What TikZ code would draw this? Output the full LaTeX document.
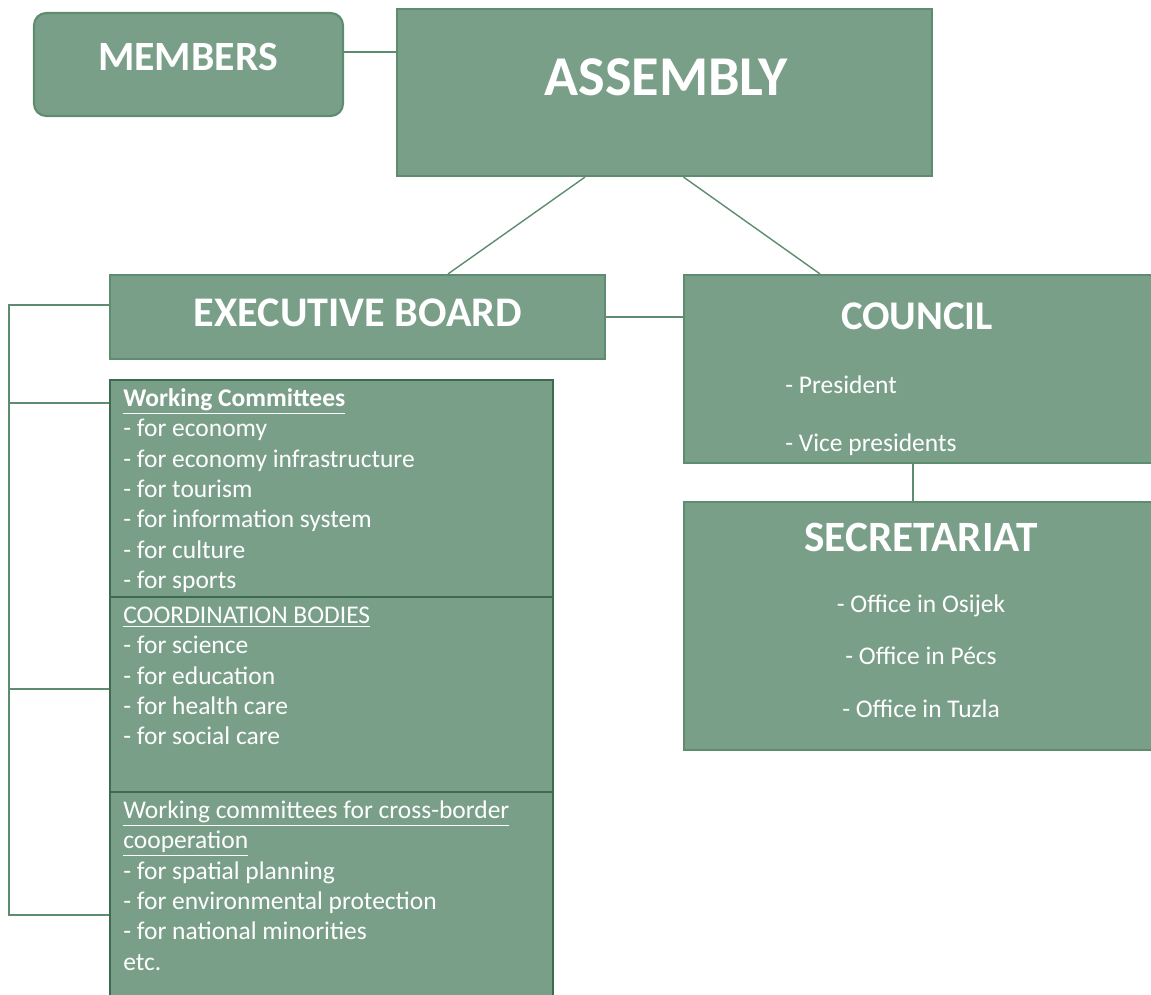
\documentclass[tikz,border=0pt]{standalone}
\usepackage{fontspec}
\setmainfont{Carlito}
\usepackage{tikz}
\usetikzlibrary{fit,positioning}
\definecolor{sage}{HTML}{7A9F88}
\definecolor{sageline}{HTML}{5E8C6F}
\definecolor{darkgreen}{HTML}{3E6B4F}
\tikzset{
  box/.style={draw=sageline,fill=sage,line width=1.2pt,inner sep=0pt},
  listbox/.style={box,draw=darkgreen,line width=0.9pt},
  heading/.style={text=white,inner sep=0pt,font=\bfseries\fontsize{24}{28}\selectfont},
  entry/.style={text=white,inner sep=0pt,align=left,
    font=\fontsize{14.5}{17.3}\selectfont},
  listtext/.style={entry,anchor=north west}
}
\tikzset{link/.style={draw=sageline,line width=0.8pt}}

\begin{document}
\begin{tikzpicture}[x=0.02cm,y=-0.02cm]
  \useasboundingbox (0,0) rectangle (1151,994);

  % top level
  \node[box,rounded corners=7pt,fit={(34,13) (343,116)}] (members) {};
  \node[heading,font=\bfseries\fontsize{23.7}{28}\selectfont] (memberstitle) at (188,57) {MEMBERS};
  \node[box,fit={(397,9) (932,176)}] (assembly) {};
  \node[heading,font=\bfseries\fontsize{32}{36}\selectfont] (assemblytitle) at (666,77) {ASSEMBLY};
  \draw[link] ([yshift=0.25cm]members.east) -- ([yshift=0.25cm]members.east -| assembly.west);

  % second level
  \node[box,fit={(110,275) (605,359)}] (exec) {};
  \node[heading] (exectitle) at (358,313) {EXECUTIVE BOARD};
  \node[box,fit={(684,275) (1160,463)}] (council) {};
  \node[heading,font=\bfseries\fontsize{23.2}{27}\selectfont] (counciltitle) at (917,316) {COUNCIL};
  \node[entry,anchor=base west] (president) at (785,393) {- President};
  \node[entry,anchor=base west] (vice) at (785,451) {- Vice presidents};
  \draw[link] ([xshift=-1.59cm]assembly.south) -- ([xshift=1.81cm]exec.north);
  \draw[link] ([xshift=0.38cm]assembly.south) -- ([xshift=-2.04cm]council.north);
  \draw[link] (exec.east) -- (exec.east -| council.west);

  \node[box,fit={(684,502) (1160,750)}] (secretariat) {};
  \node[heading,font=\bfseries\fontsize{24.6}{29}\selectfont] (secretariattitle) at (921,537) {SECRETARIAT};
  \node[entry,align=center,font=\fontsize{14.5}{29.8}\selectfont] (offices) at (921,656)
    {- Office in Osijek\\- Office in Pécs\\- Office in Tuzla};
  \draw[link] ([xshift=-0.18cm]council.south) -- ([xshift=-0.18cm]council.south |- secretariat.north);

  % bodies under the executive board
  \node[listbox,fit={(110,380) (553,597)}] (sec1) {};
  \node[listbox,fit={(110,597) (553,792)}] (sec2) {};
  \node[listbox,fit={(110,792) (553,1010)}] (sec3) {};
  \node[listtext] (sec1text) at (123,384.6)
    {\strut\underline{\textbf{Working Committees}}\\- for economy\\- for economy infrastructure\\- for tourism\\- for information system\\- for culture\\- for sports};
  \node[listtext] (sec2text) at (123,601.6)
    {\strut\underline{COORDINATION BODIES}\\- for science\\- for education\\- for health care\\- for social care};
  \node[listtext] (sec3text) at (123,796.6)
    {\strut\underline{Working committees for cross-border}\\\underline{cooperation}\\- for spatial planning\\- for environmental protection\\- for national minorities\\etc.};

  % bracket on the left
  \coordinate (spinetop) at (9,305);
  \coordinate (spinebot) at (9,915);
  \draw[link] (exec.west |- spinetop) -- (spinetop) -- (spinebot) -- (sec3.west |- spinebot);
  \draw[link] (9,403) -- (sec1.west |- 9,403);
  \draw[link] (9,689) -- (sec2.west |- 9,689);
\end{tikzpicture}
\end{document}
